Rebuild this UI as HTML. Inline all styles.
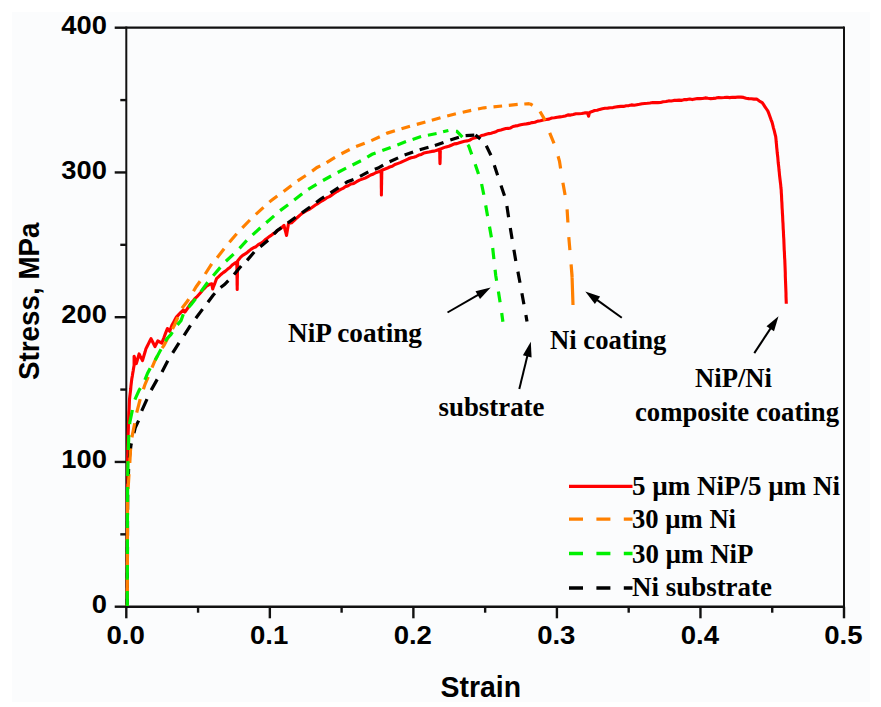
<!DOCTYPE html>
<html><head><meta charset="utf-8"><style>
html,body{margin:0;padding:0;background:#fff;}
svg{display:block;}
.sans{font-family:"Liberation Sans",sans-serif;font-weight:bold;}
.serif{font-family:"Liberation Serif",serif;font-weight:bold;}
</style></head><body>
<svg width="881" height="707" viewBox="0 0 881 707">
<rect x="0" y="0" width="881" height="707" fill="#ffffff"/>
<rect x="12" y="12" width="858" height="690" fill="#fbfcfd"/>

<g stroke="#111" fill="none">
<line x1="126.3" y1="27.7" x2="844.0" y2="27.7" stroke-width="2.2"/>
<line x1="844.0" y1="26.599999999999998" x2="844.0" y2="606.7" stroke-width="2"/>
<line x1="126.3" y1="26.599999999999998" x2="126.3" y2="607.9000000000001" stroke-width="2"/>
<line x1="125.3" y1="606.7" x2="845.0" y2="606.7" stroke-width="2.5"/>
<line x1="114.7" y1="606.70" x2="126.3" y2="606.70" stroke-width="2.4"/>
<line x1="120.3" y1="534.33" x2="126.3" y2="534.33" stroke-width="2.4"/>
<line x1="114.7" y1="461.95" x2="126.3" y2="461.95" stroke-width="2.4"/>
<line x1="120.3" y1="389.58" x2="126.3" y2="389.58" stroke-width="2.4"/>
<line x1="114.7" y1="317.20" x2="126.3" y2="317.20" stroke-width="2.4"/>
<line x1="120.3" y1="244.83" x2="126.3" y2="244.83" stroke-width="2.4"/>
<line x1="114.7" y1="172.45" x2="126.3" y2="172.45" stroke-width="2.4"/>
<line x1="120.3" y1="100.08" x2="126.3" y2="100.08" stroke-width="2.4"/>
<line x1="114.7" y1="27.70" x2="126.3" y2="27.70" stroke-width="2.4"/>
<line x1="126.30" y1="606.7" x2="126.30" y2="618.3000000000001" stroke-width="2.4"/>
<line x1="198.07" y1="606.7" x2="198.07" y2="612.7" stroke-width="2.4"/>
<line x1="269.84" y1="606.7" x2="269.84" y2="618.3000000000001" stroke-width="2.4"/>
<line x1="341.61" y1="606.7" x2="341.61" y2="612.7" stroke-width="2.4"/>
<line x1="413.38" y1="606.7" x2="413.38" y2="618.3000000000001" stroke-width="2.4"/>
<line x1="485.15" y1="606.7" x2="485.15" y2="612.7" stroke-width="2.4"/>
<line x1="556.92" y1="606.7" x2="556.92" y2="618.3000000000001" stroke-width="2.4"/>
<line x1="628.69" y1="606.7" x2="628.69" y2="612.7" stroke-width="2.4"/>
<line x1="700.46" y1="606.7" x2="700.46" y2="618.3000000000001" stroke-width="2.4"/>
<line x1="772.23" y1="606.7" x2="772.23" y2="612.7" stroke-width="2.4"/>
<line x1="844.00" y1="606.7" x2="844.00" y2="618.3000000000001" stroke-width="2.4"/>
</g>
<polyline points="127.3,606.0 127.3,603.5 127.3,601.0 127.3,598.4 127.3,595.9 127.3,593.4 127.3,590.9 127.3,588.3 127.3,585.8 127.3,583.3 127.3,580.8 127.3,578.2 127.3,575.7 127.3,573.2 127.3,570.7 127.3,568.1 127.3,565.6 127.3,563.1 127.3,560.6 127.3,558.0 127.3,555.5 127.3,553.0 127.4,550.5 127.4,548.0 127.4,545.4 127.4,542.9 127.4,540.4 127.4,537.9 127.4,535.3 127.4,532.8 127.4,530.3 127.4,527.8 127.4,525.2 127.4,522.7 127.4,520.2 127.4,517.7 127.4,515.1 127.4,512.6 127.4,510.1 127.4,507.6 127.4,505.0 127.4,502.5 127.4,500.0 127.4,497.5 127.4,495.0 127.4,492.5 127.5,490.0 127.5,487.5 127.5,485.0 127.5,482.5 127.5,480.0 127.5,477.5 127.5,475.0 127.5,472.5 127.5,470.0 127.6,467.5 127.6,465.0 127.6,462.5 127.6,460.0 127.6,457.5 127.7,455.0 127.8,452.5 127.8,450.0 127.8,447.5 127.9,445.0 128.0,442.5 128.0,440.0 128.1,437.5 128.1,435.0 128.2,432.5 128.3,429.9 128.4,427.4 128.4,424.9 128.5,422.4 128.6,419.8 128.7,417.2 128.8,414.7 128.9,412.1 129.1,409.5 129.2,406.9 129.3,404.4 129.4,401.8 129.5,399.2 129.8,396.6 130.1,394.1 130.4,391.6 130.7,389.0 130.9,386.4 131.2,383.9 131.5,381.4 131.8,378.8 132.3,376.1 132.7,373.4 133.2,370.7 133.6,368.0 134.1,365.3 134.1,362.3 134.1,359.2 134.1,356.2 134.8,358.7 135.6,361.1 136.3,363.6 137.0,361.2 137.7,358.8 138.4,356.3 139.1,353.9 140.2,356.2 141.4,358.4 142.5,360.7 143.3,357.8 144.2,354.8 145.1,351.8 145.9,348.9 147.2,346.3 148.4,343.8 149.7,341.2 151.0,338.7 152.3,341.3 153.7,344.0 155.0,346.6 156.4,343.8 157.8,340.9 161.8,343.2 162.7,340.7 163.7,338.3 164.6,335.8 165.5,333.4 166.5,330.9 167.4,328.5 169.7,331.3 170.8,328.2 172.0,325.1 173.5,322.4 174.9,319.8 176.4,317.1 178.7,314.6 181.1,312.1 183.4,310.0 184.9,312.1 186.5,309.8 188.1,307.5 189.6,305.2 191.2,302.9 193.0,301.1 194.8,298.7 196.5,297.2 198.3,295.2 200.3,292.9 202.4,290.4 204.4,288.5 206.4,286.3 209.1,284.6 211.7,283.8 212.2,286.4 212.7,288.9 213.6,286.3 214.6,283.8 215.6,281.2 216.5,278.7 218.7,276.7 220.9,274.5 223.2,272.6 225.4,271.1 227.7,269.1 229.9,267.5 232.2,265.0 234.4,263.4 236.8,262.0 236.8,264.5 236.9,267.0 236.9,269.5 236.9,272.0 237.0,274.5 237.0,277.0 237.1,279.5 237.1,282.0 237.1,284.5 237.2,287.0 237.2,289.5 237.2,286.9 237.3,284.3 237.3,281.7 237.3,279.1 237.4,276.5 237.4,274.0 237.5,271.4 237.5,268.8 237.5,266.2 237.6,263.6 237.6,261.0 240.7,257.1 242.7,255.3 244.8,254.1 246.8,252.9 248.9,251.0 250.9,249.4 253.5,247.7 256.0,246.7 258.6,244.3 261.1,243.1 263.1,241.9 265.1,239.8 267.2,238.2 269.2,236.6 271.2,235.4 273.2,233.7 275.3,232.6 277.3,230.6 279.4,229.4 281.4,227.8 284.0,225.3 284.6,227.8 285.2,230.4 285.9,232.9 286.5,235.4 287.0,232.4 287.5,229.4 288.0,226.5 288.5,223.5 291.6,222.7 293.7,220.9 295.8,218.8 297.9,217.0 300.0,215.1 302.2,213.3 304.4,211.9 306.5,210.7 308.7,209.7 310.9,208.2 313.0,206.7 315.1,205.2 317.3,204.0 319.4,202.5 322.1,200.8 324.9,199.2 327.1,197.6 329.4,196.6 331.6,195.1 333.9,193.5 336.2,191.9 338.4,190.8 340.7,189.4 342.9,188.4 345.2,186.7 348.1,185.7 350.9,184.0 353.8,183.4 356.6,181.7 359.4,180.1 362.2,179.1 365.1,178.1 367.9,176.6 370.7,175.0 373.5,174.0 376.4,172.4 379.2,171.5 381.2,170.6 381.2,173.3 381.2,176.0 381.3,178.7 381.3,181.4 381.3,184.2 381.3,186.9 381.4,189.6 381.4,192.3 381.4,195.0 381.4,192.3 381.5,189.5 381.5,186.8 381.6,184.0 381.6,181.3 381.7,178.5 381.7,175.8 381.8,173.0 381.8,170.3 384.4,169.3 387.0,168.3 389.6,167.0 392.3,166.2 394.9,164.5 397.5,163.6 400.2,162.6 402.9,161.3 405.7,160.1 408.4,158.8 411.1,157.7 413.7,157.2 416.2,156.4 418.8,155.1 421.3,154.4 423.8,153.1 426.4,152.6 429.0,152.1 431.7,151.4 434.3,151.1 437.0,150.2 439.6,149.3 439.7,152.2 439.8,155.0 439.8,157.9 439.9,160.7 440.0,163.6 440.1,160.7 440.2,157.8 440.2,154.9 440.3,152.0 440.4,149.1 443.2,147.9 446.1,146.9 448.9,146.2 451.8,145.0 454.3,143.9 456.9,143.6 459.4,142.7 461.9,141.9 464.5,141.2 467.0,140.9 469.4,140.3 471.8,138.9 474.2,138.1 476.7,137.4 479.1,137.0 481.5,135.5 483.9,135.0 486.3,134.2 488.8,133.6 491.2,133.2 493.6,132.4 496.0,131.7 498.5,130.4 500.9,129.9 503.3,129.2 505.8,128.5 508.2,128.4 510.6,127.9 513.0,126.5 515.5,125.9 517.9,125.6 520.7,124.8 523.6,124.2 526.4,123.9 529.2,123.4 532.1,122.6 534.9,122.2 537.7,121.1 540.5,120.7 543.3,120.0 546.2,119.5 549.0,119.1 551.8,118.0 554.5,117.8 557.3,117.3 560.0,116.9 562.6,116.5 565.3,116.0 568.0,114.9 570.6,115.1 573.2,114.5 575.9,113.7 578.8,113.8 581.7,113.5 584.6,112.9 587.5,112.8 588.6,116.2 589.5,112.4 592.0,111.6 594.6,110.5 597.2,110.3 599.7,109.4 602.4,108.7 605.0,108.3 607.7,108.1 610.3,107.8 613.0,107.6 615.6,107.0 618.3,106.6 620.9,106.4 623.6,106.4 626.2,105.7 628.9,105.6 631.5,104.9 634.2,105.3 636.9,104.8 639.5,104.3 642.1,103.7 644.8,103.5 647.4,103.3 650.0,103.0 652.7,102.5 655.3,102.6 657.9,102.6 660.6,102.5 663.2,101.8 665.9,101.5 668.6,100.9 671.2,101.0 673.9,100.4 676.5,100.4 679.2,100.1 681.8,100.4 684.5,99.5 687.1,99.6 689.7,99.0 692.3,99.6 694.8,99.0 697.4,98.5 700.0,98.6 702.6,98.5 705.3,97.9 708.0,98.3 710.6,98.6 713.2,98.4 715.9,98.1 718.6,97.6 721.2,97.7 724.0,97.5 726.9,97.2 729.7,97.6 732.5,97.3 735.4,97.4 738.2,97.0 740.8,97.1 743.5,97.4 746.1,98.2 748.7,98.6 751.3,98.8 754.0,99.1 756.6,99.1 759.4,101.1 762.2,102.6 763.6,104.7 765.0,106.8 766.5,109.0 767.9,111.1 769.0,113.9 770.0,116.8 771.0,119.6 772.1,122.4 772.8,125.2 773.5,128.1 774.3,130.9 775.0,133.8 775.7,136.6 776.0,139.3 776.2,142.0 776.5,144.6 776.7,147.3 777.0,150.0 777.2,152.5 777.5,155.0 777.8,157.5 778.0,160.0 778.2,162.5 778.5,165.0 778.8,167.5 779.0,170.0 779.3,172.5 779.5,175.0 779.8,177.5 780.1,180.0 780.4,182.5 780.7,185.0 780.9,187.5 781.2,190.0 781.3,192.6 781.5,195.1 781.6,197.7 781.7,200.3 781.9,202.9 782.0,205.4 782.1,208.0 782.3,210.6 782.4,213.1 782.6,215.7 782.7,218.3 782.8,220.8 783.0,223.4 783.1,226.0 783.2,228.6 783.4,231.1 783.5,233.7 783.6,236.3 783.8,239.0 783.9,241.6 784.0,244.3 784.1,246.9 784.2,249.6 784.4,252.2 784.5,254.9 784.6,257.6 784.8,260.2 784.9,262.9 785.0,265.5 785.1,268.0 785.2,270.6 785.3,273.1 785.3,275.7 785.4,278.2 785.5,280.8 785.6,283.3 785.7,285.9 785.8,288.4 785.9,291.0 786.0,293.5 786.0,296.1 786.1,298.6 786.2,301.2 786.3,303.7" fill="none" stroke="#ff0000" stroke-width="3.1" stroke-linejoin="round"/>
<path d="M127.3,606.0 L127.3,598.8 M127.4,587.8 L127.4,572.8 M127.4,561.6 L127.5,546.9 M127.5,535.7 L127.5,521.0 M127.6,509.7 L127.7,494.8 M128.1,483.7 L128.6,468.9 M129.3,457.8 L131.0,445.0 L131.4,443.3 M133.9,433.0 L135.3,427.5 L138.6,420.6 M141.7,410.8 L147.0,399.1 M151.2,390.1 L157.2,379.4 M162.0,371.9 L167.8,360.7 M172.7,352.9 L179.0,342.8 M184.1,335.4 L190.5,325.3 M195.8,318.3 L202.6,309.1 M207.9,302.2 L213.1,295.2 L214.9,293.2 M220.6,287.5 L224.5,284.6 L228.3,280.7 M234.0,274.5 L241.2,266.0 M247.1,260.4 L254.2,252.0 M260.3,246.8 L268.1,240.3 M273.8,234.2 L277.0,230.8 L281.4,227.6 M287.7,223.0 L295.7,217.2 M302.0,212.9 L310.1,207.0 M316.2,202.4 L320.4,199.2 L324.2,196.8 M330.5,192.8 L338.6,187.6 M345.0,183.3 L347.5,181.7 L353.5,179.5 M360.0,176.3 L368.3,171.9 M374.8,169.3 L378.1,168.1 L383.2,165.1 M389.6,161.8 L398.1,157.9 M404.6,154.9 L413.1,151.9 M419.7,149.7 L428.5,147.2 M434.9,145.5 L443.5,142.5 M450.3,140.1 L458.9,137.3 M465.6,135.7 L474.3,135.1 M527.0,321.5 L525.9,315.1 M523.9,304.3 L521.9,293.2 M520.0,282.7 L517.9,271.6 M515.8,260.9 L513.9,249.8 M512.1,239.0 L510.3,228.0 M508.6,217.2 L506.9,205.9 M504.5,195.7 L501.0,185.4 M497.6,175.3 L494.3,165.2 M490.9,155.2 L486.3,145.8 M480.3,139.0 L475.5,135.0" fill="none" stroke="#000" stroke-width="3.2"/>
<path d="M127.3,606.0 L127.3,604.0 M127.3,592.8 L127.4,578.1 M127.4,566.8 L127.4,552.1 M127.4,540.9 L127.5,525.9 M127.5,515.0 L127.5,500.0 M128.1,488.9 L129.0,474.1 M129.8,463.0 L130.6,448.4 M131.9,437.4 L134.7,423.3 M136.7,412.7 L140.2,399.1 M143.4,389.2 L144.8,385.0 L148.2,376.8 M152.0,367.6 L154.4,361.9 L157.4,355.9 M162.1,348.1 L164.0,345.5 L168.1,337.5 M172.5,328.9 L174.8,324.5 L177.9,317.2 M182.0,308.3 L187.7,300.8 L188.7,299.1 M193.5,291.2 L196.2,286.7 L200.1,281.3 M205.2,274.0 L211.7,263.9 M217.1,257.8 L224.1,248.7 M229.4,242.2 L236.7,233.7 M242.3,227.8 L249.9,220.0 M255.8,214.4 L263.5,207.4 M269.4,202.1 L271.3,200.4 L277.3,196.0 M283.6,191.5 L291.5,185.4 M297.6,180.8 L305.8,175.5 M312.1,171.1 L317.0,167.5 L320.3,165.9 M326.6,162.6 L335.0,157.3 M341.4,153.7 L349.7,149.5 M356.1,146.5 L364.7,143.3 M371.3,140.6 L379.8,136.7 M386.2,133.6 L387.3,133.1 L394.9,130.7 M401.5,128.7 L410.0,126.2 M416.8,124.4 L425.4,122.0 M431.8,120.2 L440.5,117.7 M447.2,116.0 L455.9,113.8 M462.7,112.2 L471.2,110.4 M478.0,109.0 L483.9,107.8 L486.6,107.5 M493.5,106.8 L502.1,106.0 M508.8,105.3 L517.7,104.4 M524.3,104.0 L529.8,103.6 M573.0,305.0 L572.6,292.3 M572.1,277.7 L571.1,264.7 M569.9,250.1 L568.8,237.1 M567.9,222.5 L567.1,209.3 M565.1,195.0 L562.9,182.7 M560.6,168.4 L559.5,161.3 L558.1,156.3 M554.0,143.3 L549.7,132.9 M545.2,120.4 L540.0,111.5 M532.6,105.3 L529.8,103.6 M573.0,305.0 L572.0,275.2 L571.1,264.4" fill="none" stroke="#ff8000" stroke-width="3.2"/>
<path d="M127.3,606.0 L127.3,591.0 M127.3,579.8 L127.4,565.1 M127.4,553.9 L127.4,539.2 M127.4,527.9 L127.5,513.0 M127.5,502.0 L127.6,487.1 M127.7,476.0 L128.0,461.1 M128.3,450.0 L128.8,435.0 M129.7,424.1 L129.8,422.4 L132.4,410.0 M134.9,399.7 L139.1,390.2 L140.4,388.1 M144.9,379.8 L147.6,373.2 L150.2,368.2 M155.0,360.1 L156.1,358.5 L161.0,349.3 M165.4,341.3 L166.9,338.7 L170.8,334.7 L172.4,332.2 M177.4,324.9 L181.0,320.6 L183.3,314.2 M188.5,307.3 L191.2,304.4 L195.6,298.7 M200.9,291.6 L207.7,282.2 M213.2,275.8 L220.3,267.4 M225.9,261.2 L233.6,254.1 M239.5,248.3 L246.8,240.4 M252.6,234.9 L260.4,227.7 M266.2,222.8 L274.1,215.9 M280.1,210.6 L288.1,204.7 M294.2,200.0 L302.2,193.7 M308.2,189.4 L316.5,184.3 M323.0,180.5 L331.1,176.0 M337.7,172.5 L346.1,168.2 M352.5,165.0 L360.9,160.8 M367.3,157.2 L372.1,154.3 L375.6,153.0 M382.3,150.6 L390.7,147.5 M397.4,144.9 L406.0,141.6 M412.6,139.4 L421.1,136.6 M427.9,135.2 L436.6,133.5 M443.1,131.8 L448.4,130.5 M502.9,321.8 L501.7,313.0 M500.1,302.2 L498.4,291.4 M496.6,280.8 L495.7,275.2 L495.1,269.8 M493.9,259.1 L492.7,248.0 M491.4,237.4 L489.5,226.6 M487.6,216.1 L485.7,205.4 M483.8,194.7 L481.6,184.0 M478.5,174.1 L475.2,164.2 M471.7,154.4 L468.7,146.0 L467.8,144.8 M462.4,137.1 L456.9,131.4 L455.9,131.3" fill="none" stroke="#00f000" stroke-width="3.2"/>
<g class="sans" font-size="26" fill="#000">
<text transform="translate(106.9,612.9) scale(1.05,1.02)" text-anchor="end">0</text>
<text transform="translate(106.9,468.2) scale(1.05,1.02)" text-anchor="end">100</text>
<text transform="translate(106.9,323.4) scale(1.05,1.02)" text-anchor="end">200</text>
<text transform="translate(106.9,178.7) scale(1.05,1.02)" text-anchor="end">300</text>
<text transform="translate(106.9,33.9) scale(1.05,1.02)" text-anchor="end">400</text>
<text transform="translate(125.7,643.8) scale(1.04,1)" text-anchor="middle" font-size="26.5">0.0</text>
<text transform="translate(269.2,643.8) scale(1.04,1)" text-anchor="middle" font-size="26.5">0.1</text>
<text transform="translate(412.8,643.8) scale(1.04,1)" text-anchor="middle" font-size="26.5">0.2</text>
<text transform="translate(556.3,643.8) scale(1.04,1)" text-anchor="middle" font-size="26.5">0.3</text>
<text transform="translate(699.9,643.8) scale(1.04,1)" text-anchor="middle" font-size="26.5">0.4</text>
<text transform="translate(843.4,643.8) scale(1.04,1)" text-anchor="middle" font-size="26.5">0.5</text>
</g>
<text class="sans" font-size="29.5" x="440.6" y="696.6" textLength="80.5" lengthAdjust="spacingAndGlyphs">Strain</text>
<text class="sans" font-size="29.5" transform="translate(38.9,380) rotate(-90)" x="0" y="0" textLength="157.5" lengthAdjust="spacingAndGlyphs">Stress, MPa</text>
<line x1="569" y1="486.3" x2="632.5" y2="486.3" stroke="#ff0000" stroke-width="3.3"/>
<line x1="569" y1="519.1" x2="632.5" y2="519.1" stroke="#ff8000" stroke-width="3.3" stroke-dasharray="14,13.4"/>
<line x1="569" y1="553.5" x2="632.5" y2="553.5" stroke="#00f000" stroke-width="3.3" stroke-dasharray="14,13.4"/>
<line x1="569" y1="588" x2="632.5" y2="588" stroke="#000" stroke-width="3.3" stroke-dasharray="14,13.4"/>
<g class="serif" font-size="26.5" fill="#000">
<text x="632" y="495" textLength="208" lengthAdjust="spacingAndGlyphs">5 µm NiP/5 µm Ni</text>
<text x="632" y="528" textLength="104" lengthAdjust="spacingAndGlyphs">30 µm Ni</text>
<text x="632" y="562.5" textLength="121.5" lengthAdjust="spacingAndGlyphs">30 µm NiP</text>
<text x="632" y="596" textLength="140" lengthAdjust="spacingAndGlyphs">Ni substrate</text>
<text x="288" y="341.5" textLength="134" lengthAdjust="spacingAndGlyphs">NiP coating</text>
<text x="550" y="348.7" textLength="116.4" lengthAdjust="spacingAndGlyphs">Ni coating</text>
<text x="438.5" y="416.3" textLength="106" lengthAdjust="spacingAndGlyphs">substrate</text>
<text x="695" y="387.2" textLength="77" lengthAdjust="spacingAndGlyphs">NiP/Ni</text>
<text x="635" y="420.9" textLength="204" lengthAdjust="spacingAndGlyphs">composite coating</text>
</g>
<line x1="447.5" y1="312.5" x2="479.4" y2="294.1" stroke="#000" stroke-width="2"/><polygon points="490.7,287.6 480.0,299.0 475.5,291.2" fill="#000"/>
<line x1="621.8" y1="317.7" x2="595.9" y2="299.1" stroke="#000" stroke-width="2"/><polygon points="585.3,291.5 600.1,296.6 594.9,303.9" fill="#000"/>
<line x1="519.3" y1="389" x2="527.7" y2="354.4" stroke="#000" stroke-width="2"/><polygon points="530.8,341.8 531.6,357.4 522.9,355.3" fill="#000"/>
<line x1="754.3" y1="353.1" x2="771.4" y2="327.1" stroke="#000" stroke-width="2"/><polygon points="778.5,316.2 774.0,331.2 766.5,326.3" fill="#000"/>
</svg></body></html>
